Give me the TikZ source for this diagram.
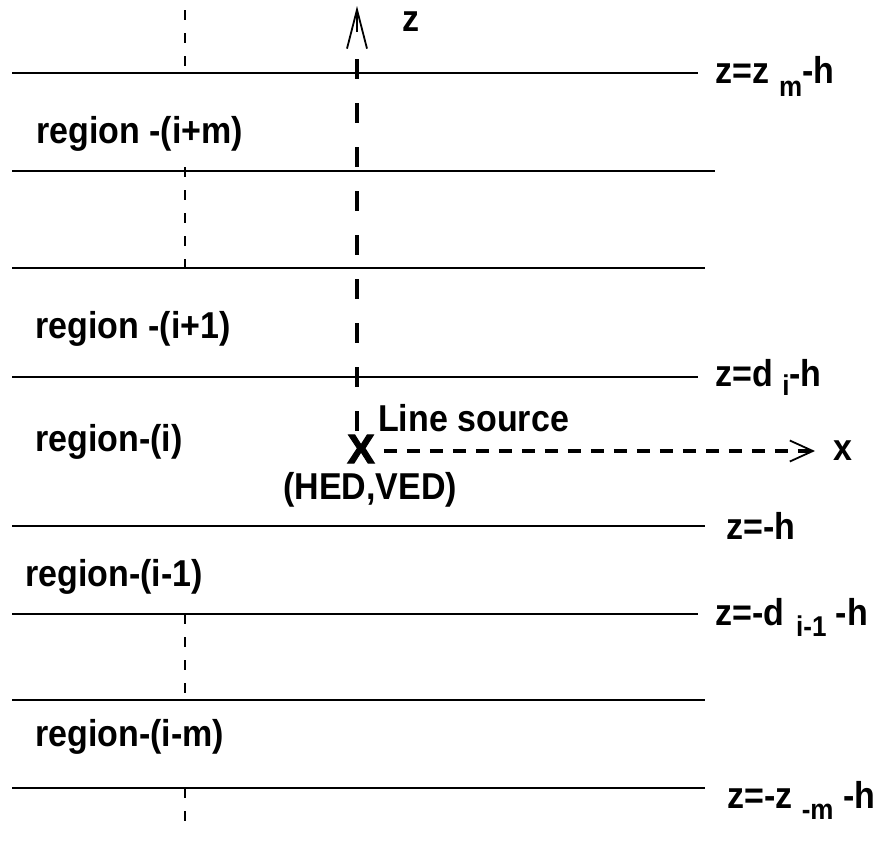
\documentclass[tikz,border=0pt]{standalone}
\usepackage{fontspec}
\setmainfont{Liberation Sans}
\newfontfamily\heavyfont{Liberation Sans Bold}[FakeBold=2.5]
\usetikzlibrary{arrows.meta}
\newcommand{\lowsub}[2][10pt]{\raisebox{-#1}{\fontsize{26}{26}\selectfont #2}}
\newcommand{\tx}[1]{\scalebox{1}[1.1]{#1}}
\begin{document}
\begin{tikzpicture}[x=1pt,y=-1pt,
  every node/.style={font=\fontsize{34}{40}\selectfont\bfseries, inner sep=0pt},
  lbl/.style={anchor=base west},
  layer/.style={line width=2pt},
  thindash/.style={line width=1.2pt, dash pattern=on 10pt off 13pt},
  zaxis/.style={line width=3.5pt, dash pattern=on 20pt off 24pt},
  xaxis/.style={line width=3.5pt, dash pattern=on 13pt off 10pt}]
\useasboundingbox (0,0) rectangle (880,854);
\fill[white] (0,0) rectangle (880,854);

% layer boundaries
\draw[layer] (12,73) -- (698,73);
\draw[layer] (12,171) -- (715,171);
\draw[layer] (12,268) -- (705,268);
\draw[layer] (12,377) -- (698,377);
\draw[layer] (12,526) -- (705,526);
\draw[layer] (12,614) -- (698,614);
\draw[layer] (12,700) -- (705,700);
\draw[layer] (12,788) -- (705,788);

% thin dashed verticals
\draw[thindash] (185,10) -- (185,73);
\draw[thindash] (185,167) -- (185,268);
\draw[thindash] (185,614) -- (185,700);
\draw[thindash] (185,788) -- (185,830);

% source and axes
\node (src) at (361,449) {\heavyfont\fontsize{41}{41}\selectfont X};
\coordinate (ztip) at (357,6);
\coordinate (xtip) at (815,451);
\draw[zaxis] ([yshift=4pt]src.north -| ztip) -- ([yshift=-42pt]ztip);
\draw[line width=2.2pt, -{Straight Barb[length=39pt,width=20pt,line width=1.8pt]}] ([yshift=-26pt]ztip) -- (ztip);
\draw[xaxis, -{Straight Barb[length=23pt,width=21pt,line width=1.8pt]}] ([xshift=9pt]src.east |- xtip) -- (xtip);

\node (zl) at (411,22) {\tx{z}};
\node (xl) at (843,451) {\tx{x}};
\node[lbl] (ls) at (378,431) {\tx{Line source}};
\node[lbl] (hv) at (283,499) {\tx{(HED,VED)}};

% region labels
\node[lbl] (r1) at (36,143) {\tx{region -(i+m)}};
\node[lbl] (r2) at (35,338) {\tx{region -(i+1)}};
\node[lbl] (r3) at (35,451) {\tx{region-(i)}};
\node[lbl] (r4) at (25,586) {\tx{region-(i-1)}};
\node[lbl] (r5) at (35,746) {\tx{region-(i-m)}};

% boundary labels
\node[lbl] (b1) at (715,83) {\tx{z=z\hspace{10pt}\lowsub[12pt]{m}-h}};
\node[lbl] (b2) at (715,386) {\tx{z=d \lowsub[9pt]{i}-h}};
\node[lbl] (b3) at (726,539) {\tx{z=-h}};
\node[lbl] (b4) at (715,625) {\tx{z=-d\hspace{12pt}\lowsub{i-1} -h}};
\node[lbl] (b5) at (727,808) {\tx{z=-z \lowsub{-m} -h}};
\end{tikzpicture}
\end{document}
